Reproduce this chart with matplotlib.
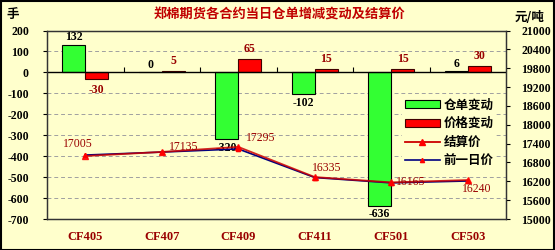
import numpy as np
import matplotlib
matplotlib.use("Agg")
import matplotlib.pyplot as plt
from matplotlib.patches import Patch, Rectangle
from matplotlib.lines import Line2D

# Data
contracts = ["CF405", "CF407", "CF409", "CF411", "CF501", "CF503"]
warrant_change = [132, 0, -320, -102, -636, 6]        # 仓单变动 (手)
price_change = [-30, 5, 65, 15, 15, 30]               # 价格变动 (元/吨)
settle_price = [17005, 17135, 17295, 16335, 16165, 16240]
prev_price = [17035, 17130, 17230, 16320, 16150, 16210]

left_ticks = list(range(-700, 201, 100))
right_ticks = list(range(15000, 21001, 600))

# label offsets for the settlement price labels (pixels), style only
settle_offsets = [(-7, 12), (22, 5), (22, 9), (12, 9), (19, 0), (9, -9)]

BG = "#FFFFCC"
GREEN = "#33FF33"
RED = "#FF0000"
DARKRED = "#990000"
TITLE_RED = "#C00000"

plt.rcParams["font.family"] = ["Liberation Serif", "Noto Sans CJK SC"]
plt.rcParams["axes.unicode_minus"] = False
CJK = ["Noto Sans CJK SC", "DejaVu Sans"]

fig = plt.figure(figsize=(5.55, 2.5), dpi=100)
fig.patch.set_facecolor(BG)
ax = fig.add_axes([47 / 555, 1 - 219 / 250, 459 / 555, 188.5 / 250])
ax.set_facecolor(BG)

x = np.arange(len(contracts))
bw = 0.30

ax.bar(x - bw / 2, warrant_change, bw, color=GREEN, edgecolor="black",
       linewidth=0.8, zorder=3)
ax.bar(x + bw / 2, price_change, bw, color=RED, edgecolor="#400000",
       linewidth=0.8, zorder=3)

ax.set_xlim(-0.5, len(contracts) - 0.5)
ax.set_ylim(-700, 200)
ax.set_yticks(left_ticks)
ax.set_yticklabels([str(v) for v in left_ticks], fontsize=8.5, fontweight="bold")
ax.yaxis.grid(True, linestyle=(0, (4, 3)), color="#A0A0A0", linewidth=0.7)
ax.set_axisbelow(True)
ax.axhline(0, color="black", linewidth=1, zorder=4)
ax.vlines(x[:-1] + 0.5, 0, 25, colors="black", linewidth=0.8, zorder=4)

ax.set_xticks(x)
ax.set_xticklabels(contracts, fontsize=9, fontweight="bold", color=DARKRED)
ax.tick_params(axis="x", length=0, pad=9)
ax.tick_params(axis="y", direction="out", length=3, pad=10)
for s in ax.spines.values():
    s.set_color("#333333")
    s.set_linewidth(0.9)

# bar value labels
for xi, v in zip(x, warrant_change):
    va = "bottom" if v >= 0 else "top"
    off = 1 if v >= 0 else -2
    ax.annotate(str(v), (xi - bw / 2, v), xytext=(0, off), textcoords="offset points",
                ha="center", va=va, fontsize=8.5, fontweight="bold", color="black",
                zorder=6)
for xi, v in zip(x, price_change):
    va = "bottom" if v >= 0 else "top"
    off = 3 if v >= 0 else -4
    ax.annotate(str(v), (xi + bw / 2, v), xytext=(0, off), textcoords="offset points",
                ha="center", va=va, fontsize=8.5, fontweight="bold", color=DARKRED,
                zorder=6)

ax2 = ax.twinx()
ax2.patch.set_visible(False)
ax2.plot(x, prev_price, color="#000080", linewidth=1.2, marker="^", markersize=3,
         markerfacecolor=RED, markeredgecolor=RED, zorder=5)
ax2.plot(x, settle_price, color="#CC0000", linewidth=1.3, marker="^", markersize=5,
         markerfacecolor=RED, markeredgecolor=RED, alpha=0.85, zorder=6)
ax2.set_ylim(15000, 21000)
ax2.set_yticks(right_ticks)
ax2.set_yticklabels([str(v) for v in right_ticks], fontsize=8.5, fontweight="bold")
ax2.tick_params(axis="y", direction="out", length=3, pad=8)
for s in ax2.spines.values():
    s.set_color("#333333")
    s.set_linewidth(0.9)

for xi, v, (dx, dy) in zip(x, settle_price, settle_offsets):
    ax2.annotate(str(v), (xi, v), xytext=(dx, dy), textcoords="offset pixels",
                 ha="center", va="center", fontsize=8.5, color=DARKRED, zorder=7)

handles = [
    Patch(facecolor=GREEN, edgecolor="black", linewidth=0.8, label="仓单变动"),
    Patch(facecolor=RED, edgecolor="#400000", linewidth=0.8, label="价格变动"),
    Line2D([0], [0], color="#CC0000", linewidth=1.3, marker="^", markersize=5,
           markerfacecolor=RED, markeredgecolor=RED, label="结算价"),
    Line2D([0], [0], color="#000080", linewidth=1.2, marker="^", markersize=3,
           markerfacecolor=RED, markeredgecolor=RED, label="前一日价"),
]
leg = ax2.legend(handles=handles, loc="upper left", bbox_to_anchor=(0.76, 0.685),
                 frameon=True, facecolor=BG, edgecolor="none", framealpha=1,
                 handlelength=2.8, handleheight=0.6, handletextpad=0.3,
                 labelspacing=0.45, borderpad=0.2, prop={"family": CJK, "size": 9,
                                                          "weight": "bold"})
leg.set_zorder(10)

fig.text(279 / 555, 1 - 15 / 250, "郑棉期货各合约当日仓单增减变动及结算价",
         ha="center", va="center", fontsize=9.5, fontweight="bold",
         color=TITLE_RED, family=CJK)
fig.text(13 / 555, 1 - 14 / 250, "手", ha="center", va="center", fontsize=9,
         fontweight="bold", family=CJK)
fig.text(530 / 555, 1 - 17 / 250, "元/吨", ha="center", va="center", fontsize=9,
         fontweight="bold", family=CJK)

fig.patches.append(Rectangle((0.001, 0.002), 0.997, 0.995, transform=fig.transFigure,
                             fill=False, edgecolor="black", linewidth=1.5))

fig.savefig("out.png", dpi=100, facecolor=BG)
